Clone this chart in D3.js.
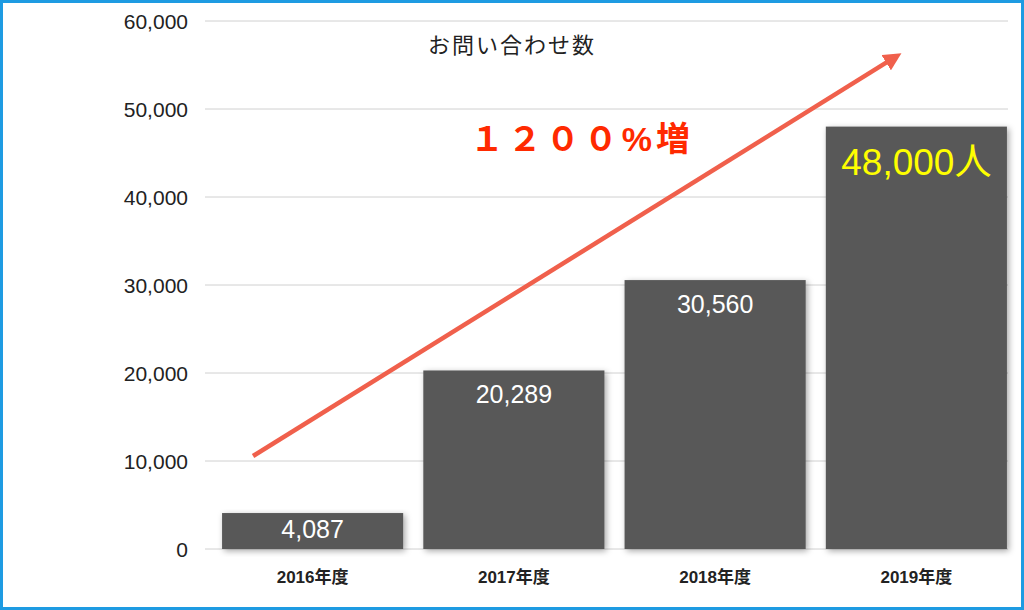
<!DOCTYPE html>
<html><head><meta charset="utf-8">
<script src="https://cdn.jsdelivr.net/npm/d3@7"></script>
<style>body{margin:0;background:#fff;font-family:"Liberation Sans","Noto Sans CJK JP",sans-serif}</style>
</head><body>
<svg id="c" width="1024" height="610"></svg>
<script>
var years = ["2016年度", "2017年度", "2018年度", "2019年度"];
var counts = [4087, 20289, 30560, 48000];
var barLabels = ["4,087", "20,289", "30,560", "48,000人"];
var yTicks = [0, 10000, 20000, 30000, 40000, 50000, 60000];

var svg = d3.select("#c");

svg.append("rect").attr("x", 1.5).attr("y", 1.5).attr("width", 1021).attr("height", 607)
  .attr("fill", "none").attr("stroke", "#1e9be2").attr("stroke-width", 3);

var x = d3.scaleBand().domain(years).range([212, 1017]).paddingInner(0.1).paddingOuter(0.05);
var y = d3.scaleLinear().domain([0, 60000]).range([549, 21]);

var defs = svg.append("defs");
var f = defs.append("filter").attr("id", "sh").attr("x", "-10%").attr("y", "-10%").attr("width", "130%").attr("height", "130%");
f.append("feDropShadow").attr("dx", 2).attr("dy", 2).attr("stdDeviation", 3).attr("flood-opacity", 0.35);

// grid
svg.selectAll(".grid").data(yTicks).enter().append("line")
  .attr("x1", 205).attr("x2", 1008)
  .attr("y1", d => y(d)).attr("y2", d => y(d))
  .attr("stroke", "#d0d0d0").attr("stroke-width", 1);

// y axis labels
svg.selectAll(".yl").data(yTicks).enter().append("text")
  .attr("x", 188).attr("y", d => y(d) + 8).attr("text-anchor", "end")
  .attr("font-size", 21).attr("fill", "#222").text(d => d3.format(",")(d));

// bars
svg.selectAll(".bar").data(counts).enter().append("rect")
  .attr("x", (d, i) => x(years[i])).attr("width", x.bandwidth())
  .attr("y", d => y(d)).attr("height", d => y(0) - y(d))
  .attr("fill", "#595959").attr("filter", "url(#sh)");

// bar labels
svg.selectAll(".bl").data(counts).enter().append("text")
  .attr("x", (d, i) => x(years[i]) + x.bandwidth() / 2)
  .attr("y", (d, i) => i == 3 ? y(d) + 48 : Math.min(y(d) + 33, y(0) - 11))
  .attr("text-anchor", "middle")
  .attr("font-size", (d, i) => i == 3 ? 37 : 25)
  .attr("fill", (d, i) => i == 3 ? "#ffff00" : "#fff")
  .text((d, i) => barLabels[i]);

// x labels
svg.selectAll(".xl").data(years).enter().append("text")
  .attr("x", d => x(d) + x.bandwidth() / 2).attr("y", 583)
  .attr("text-anchor", "middle").attr("font-size", 17).attr("font-weight", "bold")
  .attr("fill", "#222").text(d => d);

// title
svg.append("text").attr("x", 512).attr("y", 53).attr("text-anchor", "middle")
  .attr("font-size", 22).attr("fill", "#222").attr("letter-spacing", 2).text("お問い合わせ数");

// growth arrow
var m = defs.append("marker").attr("id", "ah").attr("viewBox", "0 0 10 10")
  .attr("refX", 5).attr("refY", 5).attr("markerWidth", 4).attr("markerHeight", 4).attr("orient", "auto");
m.append("path").attr("d", "M0,0L10,5L0,10z").attr("fill", "#f0604c");
svg.append("line")
  .attr("x1", x(years[0]) + 31).attr("y1", y(10570))
  .attr("x2", x(years[3]) + 68).attr("y2", y(55800))
  .attr("stroke", "#f0604c").attr("stroke-width", 4.5).attr("marker-end", "url(#ah)");

svg.append("text").attr("x", 582).attr("y", 151).attr("text-anchor", "middle")
  .attr("font-size", 34).attr("font-weight", "bold").attr("fill", "#ff2a00")
  .attr("letter-spacing", 4).text("１２００%増");
</script>
</body></html>
